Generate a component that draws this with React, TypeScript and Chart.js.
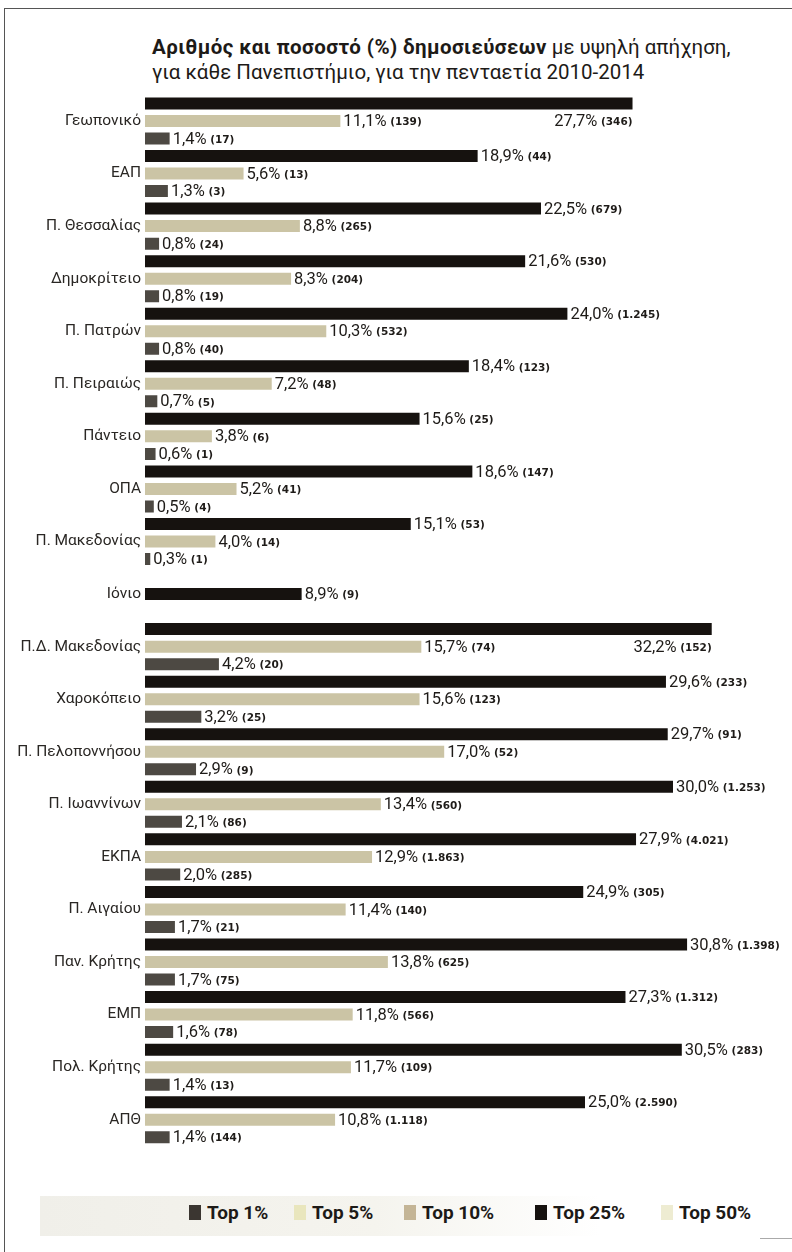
import React, { useEffect, useRef } from "react";
import { Chart, registerables } from "chart.js";
Chart.register(...registerables);

const categories = [
  "Γεωπονικό", "ΕΑΠ", "Π. Θεσσαλίας", "Δημοκρίτειο", "Π. Πατρών", "Π. Πειραιώς",
  "Πάντειο", "ΟΠΑ", "Π. Μακεδονίας", "Ιόνιο", "Π.Δ. Μακεδονίας", "Χαροκόπειο",
  "Π. Πελοποννήσου", "Π. Ιωαννίνων", "ΕΚΠΑ", "Π. Αιγαίου", "Παν. Κρήτης", "ΕΜΠ",
  "Πολ. Κρήτης", "ΑΠΘ",
];

const top25Pct = [27.7, 18.9, 22.5, 21.6, 24.0, 18.4, 15.6, 18.6, 15.1, 8.9, 32.2, 29.6, 29.7, 30.0, 27.9, 24.9, 30.8, 27.3, 30.5, 25.0];
const top25Count = [346, 44, 679, 530, 1245, 123, 25, 147, 53, 9, 152, 233, 91, 1253, 4021, 305, 1398, 1312, 283, 2590];

const top10Pct = [11.1, 5.6, 8.8, 8.3, 10.3, 7.2, 3.8, 5.2, 4.0, null, 15.7, 15.6, 17.0, 13.4, 12.9, 11.4, 13.8, 11.8, 11.7, 10.8];
const top10Count = [139, 13, 265, 204, 532, 48, 6, 41, 14, null, 74, 123, 52, 560, 1863, 140, 625, 566, 109, 1118];

const top1Pct = [1.4, 1.3, 0.8, 0.8, 0.8, 0.7, 0.6, 0.5, 0.3, null, 4.2, 3.2, 2.9, 2.1, 2.0, 1.7, 1.7, 1.6, 1.4, 1.4];
const top1Count = [17, 3, 24, 19, 40, 5, 1, 4, 1, null, 20, 25, 9, 86, 285, 21, 75, 78, 13, 144];

const legendItems = ["Top 1%", "Top 5%", "Top 10%", "Top 25%", "Top 50%"];
const legendColors = ["#3b3631", "#e9e6bd", "#c4b596", "#16120f", "#eeecd2"];
const legendLeft = [189, 294, 404, 535, 661];

// top-25% labels that sit under the bar end in the original
const labelsBelow = [0, 10];

const fmtPct = (v: number) => v.toFixed(1).replace(".", ",") + "%";
const fmtCount = (n: number) => "(" + String(n).replace(/\B(?=(\d{3})+(?!\d))/g, ".") + ")";

export default function App() {
  const ref = useRef<HTMLCanvasElement>(null);

  useEffect(() => {
    const counts = [top25Count, top10Count, top1Count];
    const labelPlugin = {
      id: "valueLabels",
      afterDatasetsDraw(chart: any) {
        const ctx = chart.ctx;
        chart.data.datasets.forEach((ds: any, di: number) => {
          const meta = chart.getDatasetMeta(di);
          meta.data.forEach((bar: any, i: number) => {
            const v = ds.data[i];
            if (v == null) return;
            const p = fmtPct(v);
            const c = " " + fmtCount(counts[di][i] as number);
            ctx.save();
            ctx.fillStyle = "#1e1b18";
            ctx.textBaseline = "middle";
            const pf = "16.5px Roboto";
            const cf = "bold 10.5px 'DejaVu Sans'";
            ctx.font = pf;
            const pw = ctx.measureText(p).width;
            ctx.font = cf;
            const cw = ctx.measureText(c).width;
            let x = bar.x + 3;
            let y = bar.y + 1;
            if (di === 0 && labelsBelow.includes(i)) {
              x = bar.x - pw - cw;
              y = bar.y + 18.5;
            }
            ctx.font = pf;
            ctx.fillText(p, x, y);
            ctx.font = cf;
            ctx.fillText(c, x + pw, y + 0.5);
            ctx.restore();
          });
        });
      },
    };

    const common = { categoryPercentage: 1.0, barPercentage: 0.7, maxBarThickness: 12, skipNull: true };

    const chart = new Chart(ref.current as HTMLCanvasElement, {
      type: "bar",
      data: {
        labels: categories,
        datasets: [
          { label: "Top 25%", data: top25Pct, backgroundColor: "#16120f", ...common },
          { label: "Top 10%", data: top10Pct as any, backgroundColor: "#cbc4a5", ...common },
          { label: "Top 1%", data: top1Pct as any, backgroundColor: "#4d4943", ...common },
        ],
      },
      options: {
        indexAxis: "y",
        responsive: false,
        maintainAspectRatio: false,
        animation: false,
        layout: { padding: { left: 0, right: 13.4, top: 94.7, bottom: 106 } },
        plugins: { legend: { display: false }, tooltip: { enabled: false }, title: { display: false } },
        scales: {
          x: { display: false, min: 0, max: 36 },
          y: {
            grid: { display: false, drawTicks: false },
            border: { display: false },
            ticks: { color: "#2a2724", font: { family: "Roboto", size: 15.5 }, padding: 4 },
            afterFit(scale: any) {
              scale.width = 145;
            },
          },
        },
      },
      plugins: [labelPlugin],
    });
    return () => chart.destroy();
  }, []);

  return (
    <div style={{ position: "absolute", left: 0, top: 0, width: 792, height: 1252, overflow: "hidden", background: "#fff", fontFamily: "Roboto" }}>
      <div style={{ position: "absolute", left: 4, top: 8, width: 800, height: 1300, borderLeft: "1.5px solid #555", borderTop: "1.5px solid #555" }} />
      <div style={{ position: "absolute", left: 760, top: 1238, width: 40, height: 0, borderTop: "1px solid #aaa" }} />
      <div style={{ position: "absolute", left: 152, top: 35, fontSize: 20.5, lineHeight: "25px", color: "#1d1a17", whiteSpace: "nowrap" }}>
        <div><b style={{ letterSpacing: 0.4 }}>Αριθμός και ποσοστό (%) δημοσιεύσεων</b> με υψηλή απήχηση,</div>
        <div>για κάθε Πανεπιστήμιο, για την πενταετία 2010-2014</div>
      </div>
      <div style={{ position: "absolute", left: 40, top: 1196, width: 560, height: 40, background: "linear-gradient(to right, #f0efe9, #f5f4ee 60%, rgba(255,255,255,0))" }} />
      {legendItems.map((t, i) => (
        <div key={t} style={{ position: "absolute", left: legendLeft[i], top: 1201, display: "flex", alignItems: "center", fontWeight: 700, fontSize: 19, color: "#1d1a17", whiteSpace: "nowrap" }}>
          <span style={{ display: "inline-block", width: 12, height: 15, background: legendColors[i], marginRight: 6 }} />
          <span>{t}</span>
        </div>
      ))}
      <canvas ref={ref} width={792} height={1252} style={{ position: "absolute", left: 0, top: 0, width: 792, height: 1252 }} />
    </div>
  );
}
